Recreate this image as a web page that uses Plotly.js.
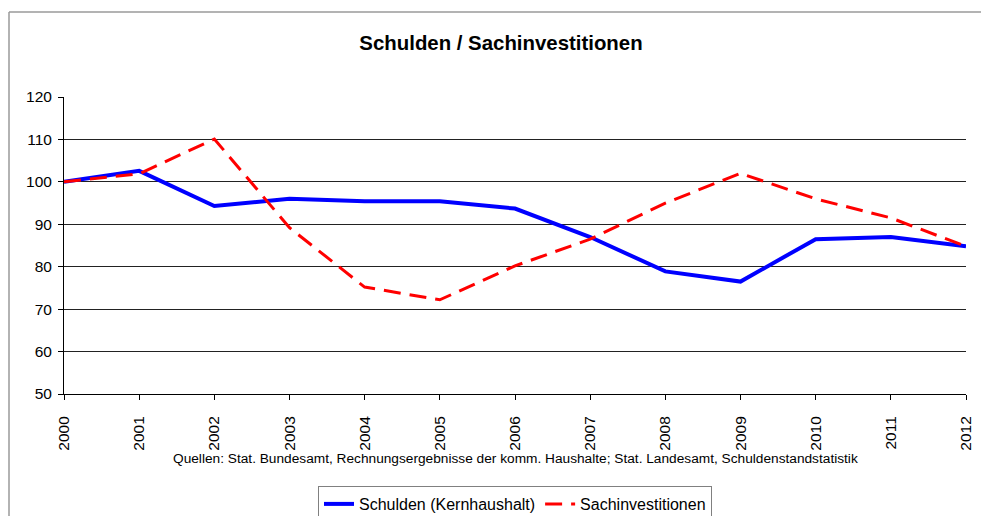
<!DOCTYPE html>
<html>
<head>
<meta charset="utf-8">
<script src="https://cdn.plot.ly/plotly-3.0.1.min.js"></script>
<style>html,body{margin:0;padding:0;background:#fff;}#chart{width:981px;height:516px;}</style>
</head>
<body>
<div id="chart"></div>
<script>
var years = [2000, 2001, 2002, 2003, 2004, 2005, 2006, 2007, 2008, 2009, 2010, 2011, 2012];
var schulden = [100, 102.6, 94.3, 96.0, 95.4, 95.4, 93.7, 87.0, 78.9, 76.5, 86.5, 87.0, 84.8];
var sachinvestitionen = [100, 101.9, 110.1, 89.2, 75.2, 72.2, 80.2, 86.5, 95.0, 102.0, 96.0, 91.5, 84.8];
var seriesNames = ['Schulden (Kernhaushalt)', 'Sachinvestitionen'];
var chartTitle = 'Schulden / Sachinvestitionen';
var sourceNote = 'Quellen: Stat. Bundesamt, Rechnungsergebnisse der komm. Haushalte; Stat. Landesamt, Schuldenstandstatistik';

var font = 'Arial, "Liberation Sans", sans-serif';
var traces = [
  {x: years, y: schulden, name: seriesNames[0], type: 'scatter', mode: 'lines',
   line: {color: '#0000ff', width: 4}},
  {x: years, y: sachinvestitionen, name: seriesNames[1], type: 'scatter', mode: 'lines',
   line: {color: '#ff0000', width: 3, dash: '17px,9px'}}
];
var L = 64, R = 966, T = 97, B = 394, W = 981, H = 516;
var pw = R - L, ph = B - T;
function px(x){return (x - L) / pw;}
function py(y){return (B - y) / ph;}
var layout = {
  width: W, height: H,
  margin: {l: L, r: W - R, t: T, b: H - B, pad: 0, autoexpand: false},
  paper_bgcolor: '#fff', plot_bgcolor: '#fff',
  font: {family: font, color: '#000', size: 15.5},
  showlegend: true,
  title: {text: '<b>' + chartTitle + '</b>', font: {family: font, size: 20.4, color: '#000'},
          x: px(501), xref: 'paper', xanchor: 'center', y: 1 - 43/H, yref: 'container', yanchor: 'middle'},
  xaxis: {range: [2000, 2012], tickmode: 'linear', tick0: 2000, dtick: 1, tickangle: -90, automargin: false,
          showgrid: false, zeroline: false, showline: true, linecolor: '#000', linewidth: 1,
          ticks: 'outside', ticklen: 5, tickcolor: '#000', ticklabelstandoff: 10,
          tickfont: {size: 15.5, family: font}},
  yaxis: {range: [50, 120], tickmode: 'linear', tick0: 50, dtick: 10, automargin: false,
          showgrid: true, gridcolor: '#222', gridwidth: 1, zeroline: false,
          showline: true, linecolor: '#000', linewidth: 1,
          ticks: 'outside', ticklen: 5, tickcolor: '#000', ticklabelstandoff: 3,
          tickfont: {size: 15.5, family: font}},
  legend: {orientation: 'h', x: px(515), xanchor: 'center', y: py(486), yanchor: 'top',
           bordercolor: '#808080', borderwidth: 1, bgcolor: '#fff',
           font: {size: 16, family: font}, itemwidth: 30, tracegroupgap: 0},
  annotations: [
    {text: sourceNote, xref: 'paper', yref: 'paper', x: px(515), y: py(458), xanchor: 'center', yanchor: 'middle',
     showarrow: false, font: {size: 13.7, family: font, color: '#000'}}
  ],
  shapes: [
    {type: 'line', xref: 'paper', yref: 'paper', x0: px(9), x1: px(9), y0: py(12), y1: py(530), line: {color: '#9a9a9a', width: 1.5}},
    {type: 'line', xref: 'paper', yref: 'paper', x0: px(9), x1: px(985), y0: py(12), y1: py(12), line: {color: '#9a9a9a', width: 1.5}}
  ]
};
Plotly.newPlot('chart', traces, layout, {displayModeBar: false, staticPlot: true});
</script>
</body>
</html>
